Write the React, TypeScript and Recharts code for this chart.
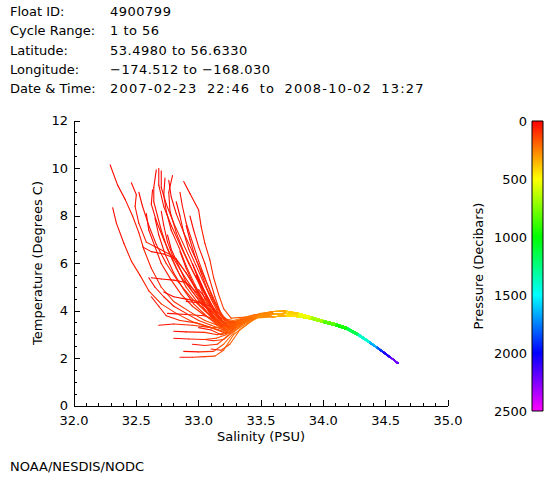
import React from 'react';
import { ScatterChart, Scatter, XAxis, YAxis, BarChart, Bar } from 'recharts';

const FONT = '"DejaVu Sans", sans-serif';

// ---------- header text ----------
const headerLabels = ['Float ID:', 'Cycle Range:', 'Latitude:', 'Longitude:', 'Date & Time:'];
const headerValues = [
  '4900799',
  '1 to 56',
  '53.4980 to 56.6330',
  '\u2212174.512 to \u2212168.030',
  '2007-02-23 22:46 to 2008-10-02 13:27',
];
const footerText = 'NOAA/NESDIS/NODC';

// ---------- axes ----------
const salinityDomain = [32, 35];
const temperatureDomain = [0, 12];
const pressureDomain = [0, 2500];
const salinityMajorTicks = [32.0, 32.5, 33.0, 33.5, 34.0, 34.5, 35.0];
const salinityAllTicks = [
  32.0, 32.1, 32.2, 32.3, 32.4, 32.5, 32.6, 32.7, 32.8, 32.9,
  33.0, 33.1, 33.2, 33.3, 33.4, 33.5, 33.6, 33.7, 33.8, 33.9,
  34.0, 34.1, 34.2, 34.3, 34.4, 34.5, 34.6, 34.7, 34.8, 34.9, 35.0,
];
const temperatureMajorTicks = [0, 2, 4, 6, 8, 10, 12];
const temperatureAllTicks = [
  0, 0.5, 1, 1.5, 2, 2.5, 3, 3.5, 4, 4.5, 5, 5.5, 6, 6.5, 7, 7.5, 8, 8.5, 9, 9.5, 10, 10.5, 11, 11.5, 12,
];
const pressureTicks = [0, 500, 1000, 1500, 2000, 2500];
const pressureGradientStops = [0, 250, 500, 750, 1000, 1250, 1500, 1750, 2000, 2250, 2500];

// ---------- profile data: [salinity, temperature, pressure] ----------
type Triple = [number, number, number];

const deepTailA: Triple[] = [
  [33.6, 3.98, 290], [33.7, 3.99, 350], [33.8, 3.9, 450], [33.9, 3.76, 590], [34.0, 3.6, 740],
  [34.1, 3.46, 880], [34.19, 3.3, 1000], [34.28, 3.03, 1250], [34.37, 2.71, 1500],
  [34.43, 2.48, 1750], [34.48, 2.29, 2000], [34.54, 2.05, 2150], [34.59, 1.82, 2300],
];
const deepTailB: Triple[] = [
  [33.6, 3.87, 300], [33.7, 3.9, 370], [33.8, 3.83, 470], [33.9, 3.7, 610], [34.0, 3.55, 760],
  [34.1, 3.41, 900], [34.19, 3.25, 1030], [34.28, 2.99, 1280], [34.37, 2.68, 1520],
  [34.43, 2.45, 1770], [34.48, 2.26, 2000], [34.53, 2.06, 2150],
];
const deepTailC: Triple[] = [
  [33.6, 3.76, 310], [33.7, 3.8, 390], [33.8, 3.76, 490], [33.9, 3.66, 630], [34.0, 3.52, 780],
  [34.1, 3.38, 920], [34.19, 3.22, 1050], [34.28, 2.97, 1300], [34.37, 2.66, 1550],
  [34.45, 2.38, 1850], [34.52, 2.12, 2050], [34.6, 1.8, 2300],
];

const upperProfiles: Triple[][] = [
  [[32.29, 10.15, 5], [32.35, 9.3, 20], [32.41, 8.7, 30], [32.47, 8.0, 40], [32.52, 7.3, 50], [32.56, 6.6, 60], [32.62, 5.8, 70], [32.7, 5.0, 80], [32.8, 4.4, 90], [32.95, 3.9, 100], [33.05, 3.6, 130], [33.15, 3.4, 170], [33.3, 3.5, 210], [33.45, 3.75, 250]],
  [[32.31, 8.35, 5], [32.34, 7.7, 20], [32.4, 6.85, 35], [32.46, 6.1, 50], [32.53, 5.5, 60], [32.6, 4.85, 70], [32.7, 4.3, 80], [32.82, 3.9, 95], [32.95, 3.55, 120], [33.1, 3.3, 160], [33.25, 3.35, 200], [33.42, 3.7, 240]],
  [[32.46, 9.4, 5], [32.5, 8.9, 20], [32.49, 8.4, 30], [32.52, 7.7, 40], [32.58, 6.9, 50], [32.69, 6.6, 60], [32.8, 6.3, 70], [32.9, 5.6, 80], [33.0, 4.8, 95], [33.1, 4.0, 115], [33.2, 3.5, 160], [33.35, 3.6, 210], [33.48, 3.8, 250]],
  [[32.66, 9.94, 5], [32.64, 9.2, 20], [32.64, 8.6, 30], [32.67, 8.0, 40], [32.7, 7.4, 50], [32.75, 6.6, 60], [32.82, 5.8, 70], [32.9, 5.0, 80], [33.0, 4.3, 95], [33.12, 3.7, 130], [33.2, 3.3, 170], [33.32, 3.5, 210], [33.47, 3.8, 250]],
  [[32.68, 10.0, 5], [32.68, 9.3, 20], [32.72, 8.4, 35], [32.78, 7.6, 45], [32.85, 6.8, 55], [32.92, 6.0, 65], [33.0, 5.2, 75], [33.05, 4.5, 90], [33.12, 3.9, 120], [33.2, 3.5, 160], [33.35, 3.6, 210], [33.5, 3.85, 250]],
  [[32.79, 9.7, 5], [32.76, 9.0, 20], [32.77, 8.2, 30], [32.82, 7.3, 45], [32.88, 6.5, 55], [32.96, 5.6, 65], [33.03, 4.9, 80], [33.1, 4.2, 100], [33.17, 3.7, 140], [33.28, 3.6, 190], [33.45, 3.85, 240]],
  [[32.88, 9.45, 5], [32.93, 8.95, 20], [33.0, 8.25, 35], [33.02, 7.55, 45], [33.05, 6.85, 55], [33.09, 6.15, 65], [33.12, 5.4, 75], [33.16, 4.7, 90], [33.2, 4.1, 110], [33.26, 3.7, 150], [33.38, 3.75, 200], [33.52, 3.9, 250]],
  [[32.63, 9.1, 5], [32.62, 8.5, 20], [32.66, 7.8, 35], [32.72, 7.0, 45], [32.78, 6.3, 55], [32.85, 5.5, 65], [32.95, 4.8, 80], [33.05, 4.2, 95], [33.15, 3.6, 130], [33.22, 3.2, 170], [33.3, 3.3, 200], [33.45, 3.7, 240]],
  [[32.7, 9.9, 5], [32.7, 9.2, 20], [32.74, 8.5, 30], [32.8, 7.7, 40], [32.87, 6.9, 50], [32.94, 6.1, 60], [33.0, 5.3, 70], [33.06, 4.6, 85], [33.12, 4.0, 105], [33.2, 3.5, 150], [33.3, 3.5, 190], [33.45, 3.8, 240]],
  [[32.76, 9.5, 5], [32.78, 8.8, 20], [32.82, 8.1, 30], [32.88, 7.3, 40], [32.95, 6.5, 50], [33.02, 5.7, 60], [33.08, 5.0, 70], [33.14, 4.3, 85], [33.19, 3.8, 105], [33.25, 3.5, 145], [33.35, 3.6, 190], [33.49, 3.85, 240]],
  [[32.58, 8.1, 5], [32.6, 7.4, 20], [32.65, 6.7, 35], [32.7, 6.0, 45], [32.78, 5.3, 55], [32.86, 4.7, 65], [32.95, 4.2, 80], [33.05, 3.8, 100], [33.15, 3.5, 135], [33.23, 3.2, 175], [33.33, 3.4, 210], [33.47, 3.8, 250]],
  [[32.85, 9.0, 5], [32.87, 8.4, 20], [32.9, 7.7, 30], [32.95, 6.9, 40], [33.0, 6.1, 50], [33.05, 5.4, 60], [33.1, 4.7, 75], [33.15, 4.1, 95], [33.21, 3.6, 135], [33.3, 3.55, 185], [33.44, 3.8, 235]],
  [[32.75, 7.2, 5], [32.78, 6.6, 20], [32.84, 5.9, 35], [32.9, 5.2, 50], [32.98, 4.6, 65], [33.06, 4.0, 85], [33.14, 3.5, 120], [33.22, 3.2, 160], [33.32, 3.45, 205], [33.46, 3.8, 245]],
  [[32.85, 6.5, 5], [32.9, 5.8, 20], [32.96, 5.1, 35], [33.02, 4.5, 55], [33.1, 3.9, 80], [33.18, 3.4, 125], [33.26, 3.3, 170], [33.4, 3.7, 225]],
  [[32.6, 5.4, 5], [32.65, 5.0, 20], [32.72, 4.6, 35], [32.8, 4.2, 50], [32.9, 3.9, 65], [33.0, 3.6, 85], [33.1, 3.4, 125], [33.2, 3.2, 160], [33.3, 3.4, 200], [33.45, 3.8, 245]],
  [[32.95, 6.0, 5], [33.0, 5.4, 20], [33.05, 4.8, 40], [33.1, 4.3, 60], [33.16, 3.8, 85], [33.22, 3.4, 130], [33.3, 3.4, 170], [33.42, 3.7, 225]],
  [[32.7, 8.2, 5], [32.72, 7.6, 20], [32.75, 6.9, 35], [32.8, 6.2, 45], [32.88, 5.5, 55], [32.97, 4.8, 70], [33.05, 4.2, 85], [33.12, 3.7, 115], [33.2, 3.3, 160], [33.3, 3.45, 200], [33.45, 3.8, 245]],
  [[32.82, 8.6, 5], [32.85, 8.0, 20], [32.88, 7.3, 35], [32.92, 6.6, 45], [32.98, 5.9, 55], [33.04, 5.2, 65], [33.1, 4.5, 80], [33.16, 3.9, 100], [33.22, 3.5, 145], [33.32, 3.55, 190], [33.47, 3.85, 245]],
  [[32.9, 7.6, 5], [32.93, 7.0, 20], [32.97, 6.3, 35], [33.02, 5.6, 50], [33.07, 4.9, 65], [33.13, 4.3, 85], [33.19, 3.8, 110], [33.26, 3.5, 155], [33.37, 3.7, 200], [33.5, 3.9, 245]],
  [[32.73, 9.6, 5], [32.72, 8.9, 20], [32.74, 8.2, 30], [32.78, 7.4, 40], [32.84, 6.7, 50], [32.9, 5.9, 60], [32.97, 5.1, 70], [33.04, 4.4, 85], [33.1, 3.8, 105], [33.18, 3.3, 150], [33.28, 3.3, 190], [33.43, 3.75, 240]],
  [[33.0, 4.9, 5], [33.06, 4.5, 40], [33.12, 4.0, 80], [33.18, 3.6, 115], [33.24, 3.3, 150], [33.33, 3.5, 190], [33.47, 3.85, 240]],
  [[32.65, 7.9, 5], [32.68, 7.2, 20], [32.73, 6.4, 35], [32.8, 5.6, 50], [32.88, 4.9, 60], [32.96, 4.3, 75], [33.06, 3.8, 95], [33.15, 3.4, 130], [33.23, 3.1, 170], [33.33, 3.4, 210], [33.46, 3.8, 250]],
  [[32.85, 2.05, 5], [32.95, 2.05, 60], [33.05, 2.08, 110], [33.13, 2.1, 150], [33.2, 2.35, 180], [33.28, 3.0, 210], [33.4, 3.5, 240], [33.5, 3.8, 270]],
  [[32.88, 2.3, 5], [33.0, 2.28, 60], [33.12, 2.3, 120], [33.2, 2.6, 160], [33.3, 3.2, 200], [33.45, 3.7, 245]],
  [[32.95, 2.6, 5], [33.05, 2.55, 60], [33.15, 2.6, 120], [33.22, 2.9, 160], [33.32, 3.4, 200], [33.46, 3.75, 245]],
  [[32.8, 3.15, 5], [32.9, 3.12, 40], [33.05, 3.1, 80], [33.15, 3.0, 120], [33.22, 3.1, 150], [33.33, 3.5, 195], [33.47, 3.8, 245]],
  [[32.75, 3.9, 5], [32.9, 3.85, 40], [33.05, 3.8, 80], [33.15, 3.6, 115], [33.22, 3.3, 145], [33.32, 3.55, 190], [33.48, 3.85, 240]],
  [[33.0, 3.3, 5], [33.1, 3.2, 60], [33.18, 3.0, 110], [33.25, 3.1, 150], [33.35, 3.5, 195], [33.5, 3.85, 245]],
  [[33.05, 2.8, 5], [33.12, 2.75, 70], [33.2, 2.8, 130], [33.27, 3.1, 170], [33.38, 3.55, 210], [33.52, 3.85, 255]],
  [[32.9, 4.4, 5], [33.0, 4.35, 40], [33.1, 4.2, 80], [33.18, 3.8, 115], [33.25, 3.4, 150], [33.36, 3.6, 195], [33.5, 3.85, 245]],
  [[33.1, 2.4, 5], [33.18, 2.35, 100], [33.25, 2.6, 160], [33.33, 3.2, 200], [33.47, 3.75, 250]],
  [[32.68, 3.4, 5], [32.8, 3.45, 40], [32.95, 3.4, 80], [33.1, 3.3, 120], [33.2, 3.1, 150], [33.3, 3.35, 190], [33.45, 3.75, 240]],
  [[32.55, 6.7, 5], [32.62, 6.5, 20], [32.72, 6.4, 35], [32.82, 6.2, 45], [32.9, 5.6, 55], [32.98, 4.9, 65], [33.05, 4.3, 80], [33.12, 3.8, 110], [33.2, 3.4, 150], [33.3, 3.45, 190], [33.45, 3.8, 240]],
  [[32.62, 5.4, 5], [32.7, 5.35, 20], [32.8, 5.3, 35], [32.9, 5.2, 45], [32.98, 4.8, 55], [33.06, 4.2, 70], [33.13, 3.7, 110], [33.2, 3.3, 150], [33.3, 3.4, 190], [33.44, 3.75, 235]],
  [[32.62, 4.6, 5], [32.68, 4.2, 25], [32.74, 3.8, 45], [32.85, 3.6, 70], [32.98, 3.5, 95], [33.1, 3.3, 125], [33.2, 3.15, 155], [33.3, 3.35, 195], [33.45, 3.75, 240]],
  [[32.72, 4.8, 5], [32.8, 4.6, 20], [32.9, 4.5, 35], [33.0, 4.4, 50], [33.1, 4.0, 70], [33.17, 3.6, 115], [33.24, 3.3, 150], [33.34, 3.5, 195], [33.48, 3.85, 245]],
  [[32.93, 8.0, 5], [32.96, 7.4, 20], [33.0, 6.7, 35], [33.05, 6.0, 45], [33.09, 5.3, 55], [33.13, 4.6, 70], [33.17, 4.0, 90], [33.22, 3.6, 130], [33.3, 3.5, 170], [33.42, 3.75, 225]],
  [[32.52, 9.0, 5], [32.55, 8.4, 20], [32.6, 7.6, 35], [32.66, 6.8, 45], [32.74, 6.0, 55], [32.84, 5.2, 65], [32.95, 4.5, 75], [33.05, 4.0, 90], [33.13, 3.6, 125], [33.2, 3.3, 160], [33.3, 3.4, 200], [33.46, 3.8, 245]],
  [[32.8, 2.85, 5], [32.92, 2.82, 45], [33.04, 2.8, 90], [33.14, 2.85, 130], [33.22, 3.0, 160], [33.3, 3.35, 195], [33.44, 3.75, 240]],
  [[32.98, 5.5, 5], [33.03, 5.0, 25], [33.08, 4.5, 45], [33.13, 4.0, 70], [33.19, 3.6, 115], [33.25, 3.3, 150], [33.34, 3.5, 195], [33.48, 3.85, 245]],
];

const deepTails = [deepTailA, deepTailB, deepTailC];

type Pt = { s: number; t: number; p: number };

const profiles: Pt[][] = upperProfiles.map((up, i) => {
  const tail = deepTails[i % deepTails.length];
  const lastS = up[up.length - 1][0];
  const all = up.concat(tail.filter((d) => d[0] > lastS));
  return all.map(([s, t, p]) => ({ s, t, p }));
});

// Pressure -> rainbow colour (0 red ... 2500 magenta), same as colour bar
const pressureColor = (p: number) => {
  const h = (Math.max(0, Math.min(2500, p)) / 2500) * 300;
  return `hsl(${h.toFixed(1)}, 100%, 50%)`;
};

const makeSegmentLine = (pts: Pt[]) => (props: any) => {
  const ps: { x: number; y: number }[] = props.points || [];
  return (
    <g>
      {ps.slice(1).map((q, i) => (
        <line
          key={i}
          x1={ps[i].x}
          y1={ps[i].y}
          x2={q.x}
          y2={q.y}
          stroke={pressureColor((pts[i].p + pts[i + 1].p) / 2)}
          strokeWidth={1.1}
          strokeLinecap="round"
        />
      ))}
    </g>
  );
};

const near = (arr: number[], v: number) => arr.some((m) => Math.abs(m - v) < 1e-6);

const tickLineStyle = { stroke: '#000', strokeWidth: 1, shapeRendering: 'crispEdges' as const };

const BottomTick = (props: any) => {
  const { x, y, payload } = props;
  const major = near(salinityMajorTicks, payload.value);
  return (
    <g>
      <line x1={x} y1={y} x2={x} y2={y - (major ? 6 : 3)} {...tickLineStyle} />
      {major ? (
        <text x={x} y={y + 19} textAnchor="middle" fontSize={13} fontFamily={FONT} fill="#000">
          {Number(payload.value).toFixed(1)}
        </text>
      ) : null}
    </g>
  );
};
const TopTick = (props: any) => {
  const { x, y, payload } = props;
  const major = near(salinityMajorTicks, payload.value);
  return <line x1={x} y1={y} x2={x} y2={y + (major ? 6 : 3)} {...tickLineStyle} />;
};
const LeftTick = (props: any) => {
  const { x, y, payload } = props;
  const major = near(temperatureMajorTicks, payload.value);
  return (
    <g>
      <line x1={x} y1={y} x2={x + (major ? 6 : 3)} y2={y} {...tickLineStyle} />
      {major ? (
        <text x={x - 6} y={y + 4} textAnchor="end" fontSize={13} fontFamily={FONT} fill="#000">
          {String(payload.value)}
        </text>
      ) : null}
    </g>
  );
};
const RightTick = (props: any) => {
  const { x, y, payload } = props;
  const major = near(temperatureMajorTicks, payload.value);
  return <line x1={x} y1={y} x2={x - (major ? 6 : 3)} y2={y} {...tickLineStyle} />;
};

const colorbarData = [{ name: 'pressure', value: pressureDomain[1] }];

export default function App() {
  return (
    <div
      style={{
        position: 'absolute',
        left: 0,
        top: 0,
        width: 560,
        height: 480,
        background: '#fff',
        overflow: 'hidden',
      }}
    >
      <div style={{ position: 'absolute', left: 0, top: 0 }}>
        <ScatterChart width={560} height={480} margin={{ top: 121, right: 112, bottom: 44, left: 34 }}>
          <XAxis
            xAxisId="main"
            type="number"
            dataKey="s"
            domain={salinityDomain}
            allowDataOverflow
            ticks={salinityAllTicks}
            interval={0}
            orientation="bottom"
            height={30}
            tickSize={0}
            tickMargin={0}
            tickLine={false}
            axisLine={{ stroke: '#000', shapeRendering: 'crispEdges' }}
            tick={<BottomTick />}
          />
          <XAxis
            xAxisId="top"
            type="number"
            domain={salinityDomain}
            allowDataOverflow
            ticks={salinityAllTicks}
            interval={0}
            orientation="top"
            height={0}
            tickSize={0}
            tickMargin={0}
            tickLine={false}
            axisLine={{ stroke: '#000', shapeRendering: 'crispEdges' }}
            tick={<TopTick />}
          />
          <YAxis
            yAxisId="main"
            type="number"
            dataKey="t"
            domain={temperatureDomain}
            allowDataOverflow
            ticks={temperatureAllTicks}
            interval={0}
            orientation="left"
            width={40}
            tickSize={0}
            tickMargin={0}
            tickLine={false}
            axisLine={{ stroke: '#000', shapeRendering: 'crispEdges' }}
            tick={<LeftTick />}
          />
          <YAxis
            yAxisId="right"
            type="number"
            domain={temperatureDomain}
            allowDataOverflow
            ticks={temperatureAllTicks}
            interval={0}
            orientation="right"
            width={0}
            tickSize={0}
            tickMargin={0}
            tickLine={false}
            axisLine={{ stroke: '#000', shapeRendering: 'crispEdges' }}
            tick={<RightTick />}
          />
          {profiles.map((pts, i) => (
            <Scatter
              key={i}
              xAxisId="main"
              yAxisId="main"
              data={pts}
              fill="none"
              line={makeSegmentLine(pts)}
              lineType="joint"
              shape={() => <g />}
              isAnimationActive={false}
            />
          ))}
        </ScatterChart>
      </div>

      <div style={{ position: 'absolute', left: 460, top: 100 }}>
        <BarChart
          width={100}
          height={340}
          data={colorbarData}
          margin={{ top: 21, right: 17, bottom: 29, left: 12 }}
          barCategoryGap={0}
        >
          <defs>
            <linearGradient id="pressureGradient" x1="0" y1="0" x2="0" y2="1">
              {pressureGradientStops.map((p) => (
                <stop key={p} offset={p / pressureDomain[1]} stopColor={pressureColor(p)} />
              ))}
            </linearGradient>
          </defs>
          <XAxis dataKey="name" hide />
          <YAxis
            type="number"
            domain={pressureDomain}
            reversed
            ticks={pressureTicks}
            interval={0}
            width={60}
            tickSize={0}
            tickMargin={5}
            tickLine={false}
            axisLine={false}
            tick={{ fill: '#000', fontSize: 13, fontFamily: FONT }}
          />
          <Bar dataKey="value" fill="url(#pressureGradient)" stroke="#000" strokeWidth={1} isAnimationActive={false} />
        </BarChart>
      </div>

      <svg
        width={560}
        height={480}
        style={{ position: 'absolute', left: 0, top: 0, pointerEvents: 'none' }}
        fontFamily={FONT}
        fontSize={13}
      >
        {headerLabels.map((l, i) => (
          <text key={l} x={10} y={16 + i * 19.3} fill="#000">
            {l}
          </text>
        ))}
        {headerValues.map((v, i) => (
          <text
            key={v}
            x={110}
            y={16 + i * 19.3}
            fill="#000"
            letterSpacing={i === headerValues.length - 1 ? 1.2 : 0.5}
            wordSpacing={i === headerValues.length - 1 ? 4 : 0}
          >
            {v}
          </text>
        ))}
        <text x={261} y={441} textAnchor="middle" fill="#000">
          Salinity (PSU)
        </text>
        <text x={42} y={263} textAnchor="middle" fill="#000" transform="rotate(-90 42 263)">
          Temperature (Degrees C)
        </text>
        <text x={483} y={266} textAnchor="middle" fill="#000" transform="rotate(-90 483 266)">
          Pressure (Decibars)
        </text>
        <text x={10} y={471} fill="#000">
          {footerText}
        </text>
      </svg>
    </div>
  );
}
